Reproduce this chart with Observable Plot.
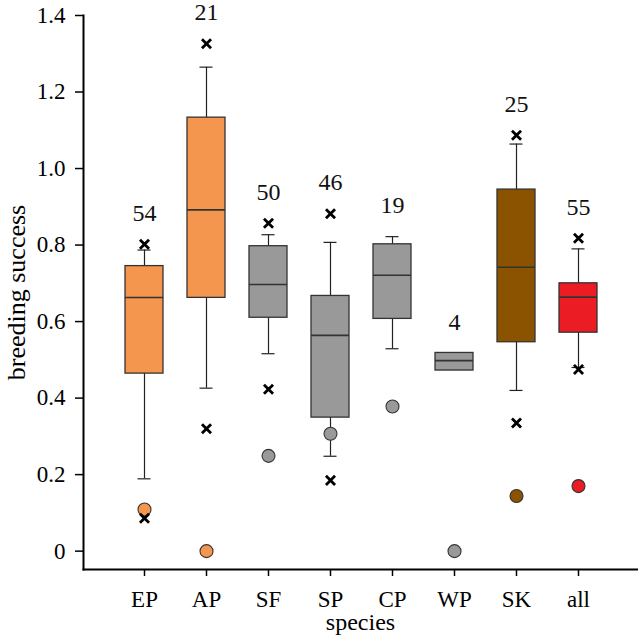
<!DOCTYPE html>
<html>
<head>
<meta charset="utf-8">
<script src="https://cdn.jsdelivr.net/npm/d3@7"></script>
<script src="https://cdn.jsdelivr.net/npm/@observablehq/plot@0.6"></script>
<style>
  html, body { margin: 0; padding: 0; background: #fff; }
  #chart svg { display: block; }
  #chart svg text { font-family: 'Liberation Serif', 'Times New Roman', serif; font-variant: normal; }
</style>
</head>
<body>
<div id="chart"></div>
<script>
// Categories and counts
const species = ["EP", "AP", "SF", "SP", "CP", "WP", "SK", "all"];
const sampleSize = [54, 21, 50, 46, 19, 4, 25, 55];
// Box-plot values
const quartile1 = [0.464, 0.662, 0.610, 0.349, 0.607, 0.472, 0.546, 0.571];
const median    = [0.663, 0.892, 0.697, 0.564, 0.721, 0.498, 0.742, 0.664];
const quartile3 = [0.745, 1.133, 0.797, 0.667, 0.802, 0.518, 0.945, 0.700];
const whiskerLow  = [0.189, 0.426, 0.516, 0.248, 0.529, null, 0.420, 0.480];
const whiskerHigh = [0.787, 1.265, 0.827, 0.807, 0.822, null, 1.064, 0.790];
const crossHigh = [0.802, 1.326, 0.857, 0.882, null, null, 1.087, 0.818];
const crossLow  = [0.086, 0.320, 0.423, 0.185, null, null, 0.335, 0.475];
const circleValue = [0.109, 0.000, 0.249, 0.307, 0.378, 0.000, 0.144, 0.170];
// Tick values
const yTicks = [0, 0.2, 0.4, 0.6, 0.8, 1.0, 1.2, 1.4];

const colorRange = ["#F5964F", "#F5964F", "#999999", "#999999", "#999999", "#999999", "#8B5200", "#EC1C24"];

const rows = species.map((s, i) => ({
  species: s, n: sampleSize[i], q1: quartile1[i], med: median[i], q3: quartile3[i],
  wLo: whiskerLow[i], wHi: whiskerHigh[i], xHi: crossHigh[i], xLo: crossLow[i], c: circleValue[i],
  top: Math.max(quartile3[i], whiskerHigh[i] ?? -1, crossHigh[i] ?? -1)
}));
const withWhiskers = rows.filter(d => d.wLo != null);
const withCrossHi = rows.filter(d => d.xHi != null);
const withCrossLo = rows.filter(d => d.xLo != null);

const serif = "'Liberation Serif', 'Times New Roman', serif";
const ink = "#222";
const chart = Plot.plot({
  width: 638,
  height: 635,
  marginLeft: 83,
  marginRight: 1,
  marginTop: 15,
  marginBottom: 66,
  style: { fontFamily: serif, background: "#fff", color: "#000" },
  x: { domain: species, range: [109.6, 612.1], paddingInner: 0.394, paddingOuter: 0.197 },
  y: { domain: [-0.048, 1.4] },
  color: { domain: species, range: colorRange },
  marks: [
    Plot.frame({ anchor: "left", stroke: "#000", strokeWidth: 2 }),
    Plot.frame({ anchor: "bottom", stroke: "#000", strokeWidth: 2 }),
    Plot.axisY({
      ticks: yTicks, tickFormat: d => d === 0 ? "0" : d.toFixed(1),
      tickSize: 8, tickPadding: 10, fontSize: 23, fontFamily: serif, strokeWidth: 1.5, label: null
    }),
    Plot.axisY({
      ticks: [], label: "breeding success", labelAnchor: "center", labelArrow: "none",
      labelOffset: 77, fontSize: 26, fontFamily: serif
    }),
    Plot.axisX({
      tickSize: 7, tickPadding: 14, fontSize: 23, fontFamily: serif, strokeWidth: 1.5, label: null
    }),
    Plot.axisX({
      ticks: [], label: "species", labelAnchor: "center", labelArrow: "none",
      labelOffset: 60, fontSize: 24, fontFamily: serif
    }),
    Plot.ruleX(withWhiskers, { x: "species", y1: "wLo", y2: "wHi", stroke: ink, strokeWidth: 1.2 }),
    Plot.tickY(withWhiskers, { x: "species", y: "wLo", inset: 12.5, stroke: ink, strokeWidth: 1.2 }),
    Plot.tickY(withWhiskers, { x: "species", y: "wHi", inset: 12.5, stroke: ink, strokeWidth: 1.2 }),
    Plot.barY(rows, { x: "species", y1: "q1", y2: "q3", fill: "species", stroke: "#333", strokeWidth: 1.3 }),
    Plot.tickY(rows, { x: "species", y: "med", stroke: "#333", strokeWidth: 1.6 }),
    Plot.dot(rows, { x: "species", y: "c", r: 6.5, fill: "species", stroke: "#333", strokeWidth: 1.1 }),
    Plot.dot(withCrossHi, { x: "species", y: "xHi", symbol: "times", r: 4.2, stroke: "#000", strokeWidth: 2.8 }),
    Plot.dot(withCrossLo, { x: "species", y: "xLo", symbol: "times", r: 4.2, stroke: "#000", strokeWidth: 2.8 }),
    Plot.text(rows, { x: "species", y: "top", text: "n", dy: -31, fontSize: 24, fontFamily: serif, fill: "#111", lineAnchor: "middle" })
  ]
});
document.getElementById("chart").appendChild(chart);
</script>
</body>
</html>
